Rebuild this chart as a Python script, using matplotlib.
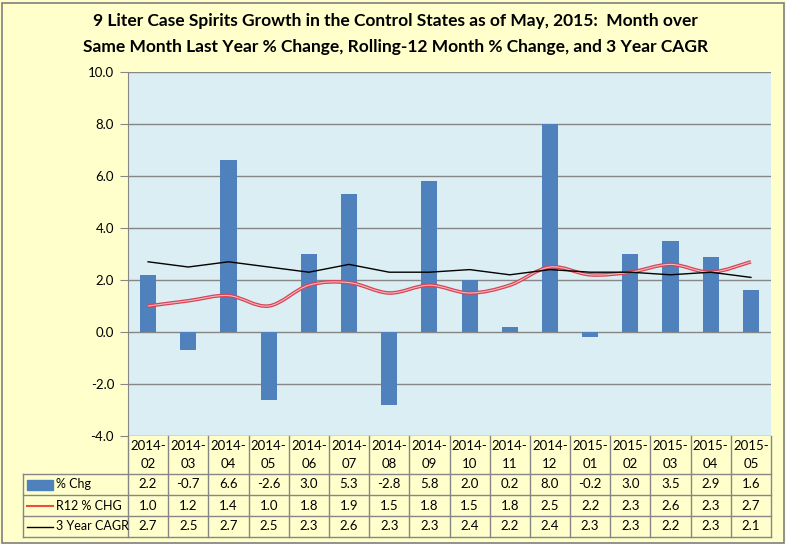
import matplotlib.pyplot as plt
import numpy as np
from matplotlib.path import Path
from matplotlib.patches import PathPatch, Rectangle
from matplotlib.lines import Line2D

months = ["2014-\n02", "2014-\n03", "2014-\n04", "2014-\n05", "2014-\n06", "2014-\n07",
          "2014-\n08", "2014-\n09", "2014-\n10", "2014-\n11", "2014-\n12", "2015-\n01",
          "2015-\n02", "2015-\n03", "2015-\n04", "2015-\n05"]
pct_chg = [2.2, -0.7, 6.6, -2.6, 3.0, 5.3, -2.8, 5.8, 2.0, 0.2, 8.0, -0.2, 3.0, 3.5, 2.9, 1.6]
r12_chg = [1.0, 1.2, 1.4, 1.0, 1.8, 1.9, 1.5, 1.8, 1.5, 1.8, 2.5, 2.2, 2.3, 2.6, 2.3, 2.7]
cagr3 = [2.7, 2.5, 2.7, 2.5, 2.3, 2.6, 2.3, 2.3, 2.4, 2.2, 2.4, 2.3, 2.3, 2.2, 2.3, 2.1]
series_names = ["% Chg", "R12 % CHG", "3 Year CAGR"]

fig_bg = "#FFFFCC"
plot_bg = "#DBEEF4"
bar_col = "#4F81BD"
grid_col = "#868686"
font = "Lato"

W, H = 786, 544
fig = plt.figure(figsize=(W / 100, H / 100), dpi=100, facecolor=fig_bg)

def fx(px):
    return px / W

def fy(py):
    return 1 - py / H

# outer border
fig.add_artist(Rectangle((fx(1.5), fy(542.5)), fx(782), 540 / H, transform=fig.transFigure,
                         fill=False, edgecolor="#7F7F7F", linewidth=1.2))

left, right, top, bottom = 128, 771, 72, 436
ax = fig.add_axes([fx(left), fy(bottom), fx(right - left), (bottom - top) / H])
ax.set_facecolor(plot_bg)
x = np.arange(len(months))
ax.set_xlim(-0.5, len(months) - 0.5)
ax.set_ylim(-4, 10)
ax.set_yticks(np.arange(-4, 10.1, 2))
ax.set_yticklabels([f"{v:.1f}" for v in np.arange(-4, 10.1, 2)], fontsize=9.5, family=font)
ax.tick_params(axis="y", length=6, color=grid_col, pad=4)
ax.set_xticks([])
ax.yaxis.grid(True, color=grid_col, linewidth=1)
ax.set_axisbelow(True)
for s in ["top", "right", "bottom"]:
    ax.spines[s].set_visible(False)
ax.spines["left"].set_color(grid_col)

ax.bar(x, pct_chg, width=0.4, color=bar_col, zorder=2)

# smoothed R12 line (Excel-style bezier through the points)
def smooth_path(xs, ys):
    pts = np.column_stack([xs, ys]).astype(float)
    verts = [pts[0]]
    codes = [Path.MOVETO]
    n = len(pts)
    for i in range(n - 1):
        p0 = pts[i - 1] if i > 0 else pts[i]
        p1 = pts[i]
        p2 = pts[i + 1]
        p3 = pts[i + 2] if i + 2 < n else pts[i + 1]
        c1 = p1 + (p2 - p0) / 6
        c2 = p2 - (p3 - p1) / 6
        verts += [c1, c2, p2]
        codes += [Path.CURVE4] * 3
    return Path(verts, codes)

path = smooth_path(x, r12_chg)
ax.add_patch(PathPatch(path, fill=False, edgecolor="#D84455", linewidth=2.6, zorder=3))
ax.add_patch(PathPatch(path, fill=False, edgecolor="#F4B8C0", linewidth=0.8, zorder=3))
ax.plot(x, cagr3, color="black", linewidth=1, zorder=4)

# data table
tab_top, tab_bot = 436, 537
tax = fig.add_axes([fx(left), fy(tab_bot), fx(right - left), (tab_bot - tab_top) / H])
tax.set_xlim(-0.5, len(months) - 0.5)
tax.set_ylim(tab_bot - tab_top, 0)
tax.axis("off")
col_w = (right - left) / len(months)
xl = -0.5 - (left - 23) / col_w
rows_y = [0, 38, 59, 80, 101]
line_kw = dict(color=grid_col, linewidth=1, clip_on=False)
for yy in rows_y[1:]:
    tax.plot([xl, len(months) - 0.5], [yy, yy], **line_kw)
for i in range(len(months) + 1):
    tax.plot([i - 0.5, i - 0.5], [0, rows_y[-1]], **line_kw)
tax.plot([xl, xl], [rows_y[1], rows_y[-1]], **line_kw)

for i, m in enumerate(months):
    tax.text(i, 19, m, ha="center", va="center", fontsize=9.5, family=font, linespacing=1.6)
for r, vals in enumerate([pct_chg, r12_chg, cagr3]):
    yc = (rows_y[r + 1] + rows_y[r + 2]) / 2
    for i, v in enumerate(vals):
        tax.text(i, yc, f"{v:.1f}", ha="center", va="center", fontsize=9.5, family=font)
    tax.text(xl + (56 - 23) / col_w, yc, series_names[r], ha="left", va="center",
             fontsize=9, family=font)

k0, k1 = xl + 4 / col_w, xl + 30 / col_w
yc = (rows_y[1] + rows_y[2]) / 2
tax.add_patch(Rectangle((k0, yc - 5), k1 - k0, 10, color=bar_col, clip_on=False))
yc = (rows_y[2] + rows_y[3]) / 2
tax.add_line(Line2D([k0, k1], [yc, yc], color="#E8503A", linewidth=1.5, clip_on=False))
yc = (rows_y[3] + rows_y[4]) / 2
tax.add_line(Line2D([k0, k1], [yc, yc], color="black", linewidth=1, clip_on=False))

fig.text(0.503, fy(21), "9 Liter Case Spirits Growth in the Control States as of May, 2015:  Month over",
         ha="center", va="center", fontsize=12.5, fontweight="bold", family=font)
fig.text(0.503, fy(47), "Same Month Last Year % Change, Rolling-12 Month % Change, and 3 Year CAGR",
         ha="center", va="center", fontsize=12.5, fontweight="bold", family=font)

fig.savefig("out.png", dpi=100, facecolor=fig_bg)
